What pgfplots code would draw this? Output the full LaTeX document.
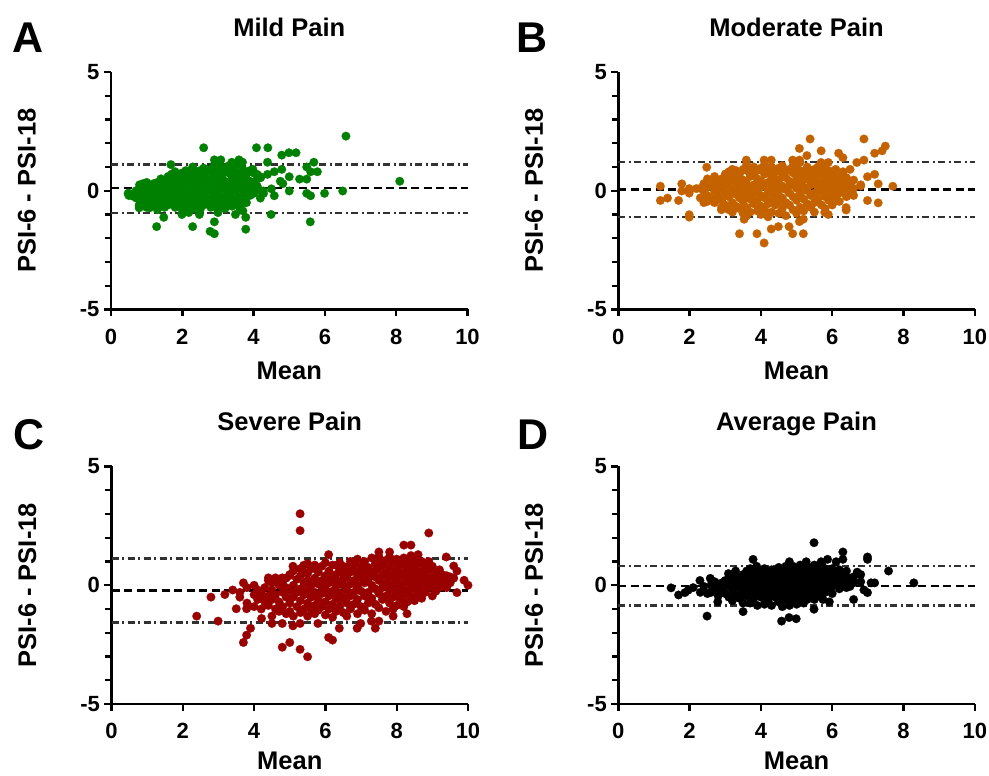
\documentclass[border=0pt]{standalone}
\usepackage{pgfplots}
\pgfplotsset{compat=1.18}
\usepackage{fontspec}
\setmainfont{Liberation Sans}
\definecolor{cA}{RGB}{0,128,0}
\definecolor{cB}{RGB}{196,98,0}
\definecolor{cC}{RGB}{153,0,0}
\definecolor{loa}{RGB}{50,50,50}
\pgfplotsset{
  bland/.style={
    scale only axis, width=356.5pt, height=237.5pt,
    xmin=0, xmax=10, ymin=-5, ymax=5,
    axis lines*=left,
    axis line style={line width=2.8pt, black},
    xtick={0,2,4,6,8,10}, ytick={-5,0,5},
    minor ytick={-4,-3,-2,-1,1,2,3,4},
    tick align=outside, major tick length=7pt, minor tick length=6pt,
    every tick/.style={line width=2.4pt, black},
    /pgf/number format/assume math mode=true,
    ticklabel style={font=\fontsize{22}{22}\selectfont\bfseries},
    xticklabel style={yshift=-9pt},
    yticklabel style={xshift=-1pt},
    label style={font=\fontsize{25.5}{28}\selectfont\bfseries},
    title style={font=\fontsize{25.5}{28}\selectfont\bfseries, at={(rel axis cs:0.5,1.126)}, anchor=base},
    xlabel style={at={(rel axis cs:0.5,-0.259)}, anchor=center},
    ylabel style={at={(rel axis cs:-0.236,0.5)}, anchor=center},
    xlabel={Mean}, ylabel={PSI-6 - PSI-18},
    clip=false,
  },
  lowrow/.style={xlabel style={at={(rel axis cs:0.5,-0.238)}, anchor=center}},
  pts/.style={only marks, mark=*, mark size=4.3pt, color=#1, mark options={fill=#1, draw=#1, line width=0.2pt}},
  meanl/.style={black, line width=2.6pt, dash pattern=on 8pt off 4.5pt},
  loal/.style={loa, line width=2.3pt, dash pattern=on 7pt off 3.5pt on 2pt off 3.5pt},
}
\begin{document}
\begin{tikzpicture}
\useasboundingbox (0,0) rectangle (989pt,776pt);
% ---------------- A
\begin{axis}[bland, at={(111pt,466.5pt)}, anchor=south west, title={Mild Pain}]
\addplot[pts=cA] coordinates {
(6.59,2.30) (8.10,0.40) (2.60,1.81) (4.08,1.81) (4.40,1.81) (4.79,1.50) (4.99,1.60) (5.19,1.60) (5.69,1.20) (5.49,1.00) (5.79,0.80) (5.60,0.80) (5.29,0.49) (5.49,0.49) (5.00,0.59) (5.00,-0.01) (6.50,-0.01) (5.99,-0.11) (5.49,-0.11) (5.60,-0.21) (5.59,-1.31) (4.49,-1.00) (4.58,-0.21) (4.79,0.90) (4.58,0.80) (4.39,1.20) (4.19,-0.31) (3.78,-1.62) (3.78,-1.12) (2.90,-1.81) (2.78,-1.71) (2.90,-1.31) (2.29,-1.51) (1.28,-1.51) (1.48,-1.12) (3.49,-1.00) (3.00,-0.92) (2.48,-1.00) (1.99,-1.00) (2.18,-0.92) (0.48,-0.11) (0.58,-0.21) (0.79,-0.61) (0.79,-0.72) (1.08,-0.72) (1.68,1.10) (2.29,1.00) (2.90,1.30) (3.08,1.30) (3.39,1.20) (3.59,1.30) (3.69,1.20) (3.98,0.90) (4.10,0.69) (4.19,0.59) (4.39,0.69) (4.82,0.30) (4.75,0.40) (4.50,0.08) (4.27,-0.01) (4.00,-0.11) (3.82,-0.11) (3.72,-0.51) (4.28,-0.11)
(0.5,-0.1) (0.5,-0.2) (0.6,-0.15) (0.7,0.0) (0.7,-0.3)
(0.8,0.25) (0.8,-0.6) (0.8,0.1) (0.8,-0.3) (0.9,0.3) (0.9,-0.1) (0.9,-0.45) (0.9,0.15)
(1.0,0.35) (1.0,0.0) (1.0,-0.35) (1.0,-0.7) (1.0,0.2) (1.1,0.25) (1.1,-0.15) (1.1,-0.5) (1.1,0.05)
(1.2,0.3) (1.2,-0.25) (1.2,0.1) (1.2,-0.6) (1.3,0.35) (1.3,0.0) (1.3,-0.4) (1.3,0.2) (1.3,-0.8)
(1.4,0.15) (1.4,-0.2) (1.4,0.5) (1.4,-0.55) (1.5,0.3) (1.5,-0.05) (1.5,-0.7) (1.5,0.4) (1.5,-0.35)
(1.6,0.6) (1.6,0.1) (1.6,-0.3) (1.6,-0.6) (1.7,0.7) (1.7,0.2) (1.7,-0.15) (1.7,-0.5) (1.7,0.45)
(1.8,0.8) (1.8,0.35) (1.8,0.0) (1.8,-0.4) (1.8,-0.7) (1.8,0.55) (1.9,0.65) (1.9,0.25) (1.9,-0.2) (1.9,-0.55) (1.9,0.05)
(2.0,0.75) (2.0,0.4) (2.0,-0.1) (2.0,-0.45) (2.0,-0.8) (2.0,0.15) (2.1,0.85) (2.1,0.5) (2.1,0.0) (2.1,-0.3) (2.1,-0.65)
(2.2,0.6) (2.2,0.3) (2.2,-0.2) (2.2,-0.5) (2.2,0.1) (2.2,0.8) (2.3,0.9) (2.3,0.45) (2.3,0.05) (2.3,-0.35) (2.3,-0.75)
(2.4,0.7) (2.4,0.2) (2.4,-0.15) (2.4,-0.55) (2.4,0.5) (2.5,0.85) (2.5,0.35) (2.5,-0.05) (2.5,-0.4) (2.5,-0.8)
(2.6,0.6) (2.6,0.15) (2.6,-0.25) (2.6,-0.6) (2.6,0.95) (2.7,0.8) (2.7,0.4) (2.7,0.0) (2.7,-0.45)
(2.8,0.9) (2.8,0.5) (2.8,0.1) (2.8,-0.3) (2.8,-0.7) (2.9,1.1) (2.9,0.65) (2.9,0.25) (2.9,-0.15) (2.9,-0.55)
(3.0,0.85) (3.0,0.45) (3.0,0.0) (3.0,-0.4) (3.0,-0.8) (3.1,1.0) (3.1,0.6) (3.1,0.2) (3.1,-0.25) (3.1,-0.6)
(3.2,0.9) (3.2,0.4) (3.2,0.05) (3.2,-0.35) (3.2,-0.75) (3.3,0.75) (3.3,0.3) (3.3,-0.1) (3.3,-0.5) (3.3,1.05)
(3.4,0.95) (3.4,0.55) (3.4,0.15) (3.4,-0.3) (3.4,-0.65) (3.5,0.8) (3.5,0.4) (3.5,0.0) (3.5,-0.45)
(3.6,1.1) (3.6,0.6) (3.6,0.2) (3.6,-0.25) (3.6,-0.7) (3.7,0.9) (3.7,0.45) (3.7,0.05) (3.7,-0.4) (3.7,-0.85)
(3.8,0.7) (3.8,0.3) (3.8,-0.15) (3.8,-0.5) (3.9,0.85) (3.9,0.4) (3.9,0.1) (3.9,-0.2)
(4.0,0.75) (4.0,0.3) (4.0,-0.1) (4.1,0.5) (4.1,0.2) (4.2,0.55) (4.2,0.0)
};
\addplot[meanl] coordinates {(0,0.11) (10,0.11)};
\addplot[loal] coordinates {(0,1.11) (10,1.11)};
\addplot[loal] coordinates {(0,-0.93) (10,-0.93)};
\end{axis}
% ---------------- B
\begin{axis}[bland, at={(618.3pt,466.5pt)}, anchor=south west, title={Moderate Pain}]
\addplot[pts=cB] coordinates {
(5.38,2.18) (6.89,2.18) (7.49,1.88) (7.40,1.68) (7.19,1.58) (5.69,1.68) (5.08,1.78) (5.29,1.48) (6.18,1.58) (6.30,1.39) (6.69,1.19) (6.89,1.29) (7.19,0.69) (6.99,0.59) (7.29,0.29) (7.70,0.19) (6.99,-0.41) (7.29,-0.51) (6.60,-0.20) (6.39,-0.71) (6.39,-0.81) (1.18,0.19) (1.18,-0.41) (1.38,-0.31) (1.69,-0.41) (1.78,0.29) (1.78,-0.01) (1.99,0.09) (1.99,-0.10) (1.99,-1.01) (1.99,-1.11) (2.19,0.09) (2.48,0.99) (3.40,-1.81) (3.89,-1.81) (4.09,-2.20) (4.29,-1.61) (4.49,-1.51) (4.79,-1.51) (4.89,-1.81) (5.19,-1.81) (5.08,-1.30) (5.19,-1.20) (3.59,1.29) (4.09,1.29) (4.29,1.29) (4.89,1.29) (5.08,1.29) (5.69,1.19) (5.89,1.19) (5.79,-0.91) (5.89,-1.00) (3.53,-1.20) (2.89,-0.80)
(2.3,0.1) (2.3,-0.3) (2.4,0.3) (2.4,-0.5) (2.4,0.0) (2.5,0.5) (2.5,0.15) (2.5,-0.2) (2.5,-0.45) (2.6,0.2) (2.6,-0.3)
(2.7,0.4) (2.7,0.0) (2.7,-0.5) (2.7,0.6) (2.8,0.25) (2.8,-0.2) (2.8,-0.35) (2.9,0.5) (2.9,0.1) (2.9,-0.4) (2.9,-0.7)
(3.0,0.7) (3.0,0.3) (3.0,-0.1) (3.0,-0.6) (3.0,0.5) (3.1,0.8) (3.1,0.2) (3.1,-0.25) (3.1,-0.8) (3.1,0.45)
(3.2,0.6) (3.2,0.05) (3.2,-0.5) (3.2,-0.9) (3.2,0.9) (3.3,0.85) (3.3,0.35) (3.3,-0.15) (3.3,-0.65) (3.3,0.55)
(3.4,0.7) (3.4,0.2) (3.4,-0.3) (3.4,-0.75) (3.4,-0.05) (3.5,0.45) (3.5,0.0) (3.5,-0.45) (3.5,-0.95) (3.5,0.9)
(3.6,0.85) (3.6,0.3) (3.6,-0.2) (3.6,-0.7) (3.6,1.1) (3.6,-1.05) (3.7,0.6) (3.7,0.1) (3.7,-0.35) (3.7,-0.9) (3.7,0.95)
(3.8,0.75) (3.8,0.25) (3.8,-0.1) (3.8,-0.55) (3.8,1.0) (3.9,0.5) (3.9,0.0) (3.9,-0.4) (3.9,-0.85) (3.9,0.85)
(4.0,0.95) (4.0,0.4) (4.0,-0.2) (4.0,-0.65) (4.0,0.15) (4.0,-1.0) (4.1,0.7) (4.1,0.2) (4.1,-0.3) (4.1,-0.8) (4.1,1.1)
(4.2,0.85) (4.2,0.35) (4.2,-0.1) (4.2,-0.55) (4.2,-1.1) (4.2,0.05) (4.3,0.6) (4.3,0.1) (4.3,-0.4) (4.3,-0.9) (4.3,1.0)
(4.4,0.8) (4.4,0.3) (4.4,-0.2) (4.4,-0.6) (4.4,0.5) (4.5,0.95) (4.5,0.45) (4.5,0.0) (4.5,-0.45) (4.5,-0.95) (4.5,0.15)
(4.6,0.7) (4.6,0.2) (4.6,-0.3) (4.6,-0.75) (4.6,1.05) (4.7,0.55) (4.7,0.05) (4.7,-0.5) (4.7,-1.05) (4.7,0.85)
(4.8,0.9) (4.8,0.4) (4.8,-0.1) (4.8,-0.6) (4.8,0.2) (4.9,0.75) (4.9,0.25) (4.9,-0.25) (4.9,-0.8) (4.9,1.05)
(5.0,0.6) (5.0,0.1) (5.0,-0.4) (5.0,-0.95) (5.0,0.95) (5.0,0.35) (5.1,0.85) (5.1,0.3) (5.1,-0.15) (5.1,-0.7) (5.1,1.2)
(5.2,0.65) (5.2,0.15) (5.2,-0.35) (5.2,-0.85) (5.2,0.45) (5.3,0.95) (5.3,0.5) (5.3,0.0) (5.3,-0.55) (5.3,1.0)
(5.4,0.75) (5.4,0.25) (5.4,-0.2) (5.4,-0.7) (5.4,0.55) (5.5,0.9) (5.5,0.4) (5.5,-0.1) (5.5,-0.5) (5.5,-0.9)
(5.6,0.65) (5.6,0.15) (5.6,-0.35) (5.6,1.0) (5.7,0.8) (5.7,0.35) (5.7,-0.05) (5.7,-0.6)
(5.8,0.6) (5.8,0.2) (5.8,-0.25) (5.8,-0.75) (5.8,0.95) (5.9,0.85) (5.9,0.45) (5.9,0.05) (5.9,-0.4)
(6.0,0.7) (6.0,0.25) (6.0,-0.15) (6.0,-0.6) (6.1,0.9) (6.1,0.5) (6.1,0.1) (6.1,-0.3)
(6.2,0.6) (6.2,0.3) (6.2,-0.1) (6.2,-0.45) (6.3,0.8) (6.3,0.4) (6.3,0.05) (6.4,0.55) (6.4,0.15) (6.4,-0.25)
(6.5,0.9) (6.5,0.3) (6.5,-0.1) (6.6,0.1) (6.6,0.45) (6.8,0.2) (6.8,0.25)
};
\addplot[meanl] coordinates {(0,0.06) (10,0.06)};
\addplot[loal] coordinates {(0,1.22) (10,1.22)};
\addplot[loal] coordinates {(0,-1.10) (10,-1.10)};
\end{axis}
% ---------------- C
\begin{axis}[bland, lowrow, at={(111.5pt,72pt)}, anchor=south west, title={Severe Pain}]
\addplot[pts=cC] coordinates {
(5.29,3.01) (5.29,2.30) (8.90,2.20) (8.20,1.69) (8.40,1.69) (8.40,1.25) (8.60,1.29) (9.39,1.19) (10.00,0.00) (9.89,0.21) (9.60,0.81) (9.69,0.60) (9.30,0.43) (9.69,-0.31) (6.09,1.29) (7.50,1.40) (7.80,1.40) (5.09,0.80) (2.39,-1.30) (2.79,-0.50) (2.99,-1.51) (3.18,-0.39) (3.70,0.10) (3.70,-2.41) (3.79,-2.10) (3.90,-1.81) (3.50,-0.99) (3.79,-0.99) (4.79,-2.61) (5.00,-2.41) (5.29,-2.70) (5.50,-3.01) (6.09,-2.20) (6.20,-2.31) (6.39,-1.81) (6.89,-1.81) (7.40,-1.81) (8.29,-1.20) (4.21,-1.40) (4.50,-1.61) (4.79,-1.61) (5.09,-1.71) (5.29,-1.61) (5.79,-1.61) (6.99,-1.61) (7.29,-1.51) (7.50,-1.51) (7.90,-1.30) (4.40,0.31) (4.60,0.31) (4.79,0.31) (5.00,0.41) (5.39,0.84) (5.50,0.91) (5.69,0.70) (6.30,0.84)
(3.4,-0.2) (3.6,-0.5) (3.6,-0.3) (3.8,-0.75) (3.8,-0.1) (4.0,-0.4) (4.0,-0.9) (4.0,0.0) (4.1,-0.6) (4.1,-0.2)
(4.2,-0.3) (4.2,-1.0) (4.2,-0.55) (4.3,-0.1) (4.3,-0.7) (4.4,0.2) (4.4,-0.45) (4.4,-0.85) (4.5,-0.2) (4.5,-0.6) (4.5,-1.3) (4.5,0.1)
(4.6,-0.4) (4.6,-1.0) (4.6,0.25) (4.7,0.0) (4.7,-0.7) (4.7,-1.1) (4.8,-0.3) (4.8,-0.9) (4.8,0.15) (4.9,-0.5) (4.9,-1.2) (4.9,0.3) (4.9,-0.1)
(5.0,-0.75) (5.0,-0.2) (5.0,0.45) (5.0,-1.1) (5.1,0.0) (5.1,-0.5) (5.1,-1.3) (5.1,0.6) (5.2,-0.3) (5.2,-0.9) (5.2,0.25)
(5.3,0.4) (5.3,-0.15) (5.3,-0.65) (5.3,-1.15) (5.3,0.7) (5.4,0.1) (5.4,-0.4) (5.4,-1.0) (5.4,0.55)
(5.5,0.5) (5.5,-0.2) (5.5,-0.75) (5.5,-1.3) (5.5,0.2) (5.6,0.7) (5.6,0.0) (5.6,-0.5) (5.6,-1.0)
(5.7,0.3) (5.7,-0.3) (5.7,-0.85) (5.7,-1.2) (5.7,0.85) (5.8,0.55) (5.8,0.05) (5.8,-0.6) (5.8,-1.05)
(5.9,0.8) (5.9,0.2) (5.9,-0.35) (5.9,-0.9) (5.9,-0.05) (6.0,0.4) (6.0,-0.15) (6.0,-0.7) (6.0,-1.25) (6.0,0.95)
(6.1,0.6) (6.1,0.1) (6.1,-0.45) (6.1,-1.0) (6.1,0.3) (6.2,0.85) (6.2,0.3) (6.2,-0.25) (6.2,-0.8) (6.2,-1.35)
(6.3,0.45) (6.3,-0.05) (6.3,-0.55) (6.3,-1.1) (6.3,0.15) (6.4,0.95) (6.4,0.65) (6.4,0.15) (6.4,-0.35) (6.4,-0.9) (6.4,-0.6)
(6.5,0.5) (6.5,0.0) (6.5,-0.5) (6.5,-1.15) (6.5,0.8) (6.5,0.25) (6.6,0.75) (6.6,0.35) (6.6,-0.2) (6.6,-0.75) (6.6,-1.3)
(6.7,1.0) (6.7,0.55) (6.7,0.05) (6.7,-0.45) (6.7,-1.0) (6.8,0.65) (6.8,0.2) (6.8,-0.3) (6.8,-0.8) (6.8,0.9)
(6.9,1.1) (6.9,0.45) (6.9,-0.1) (6.9,-0.6) (6.9,-1.2) (6.9,0.0) (7.0,0.8) (7.0,0.3) (7.0,-0.25) (7.0,-0.9) (7.0,0.55)
(7.1,1.0) (7.1,0.6) (7.1,0.1) (7.1,-0.45) (7.1,-1.05) (7.2,0.75) (7.2,0.25) (7.2,-0.3) (7.2,-0.75) (7.2,0.45)
(7.3,1.15) (7.3,0.5) (7.3,0.0) (7.3,-0.55) (7.3,-1.2) (7.4,0.9) (7.4,0.35) (7.4,-0.15) (7.4,-0.8) (7.4,0.6)
(7.5,1.2) (7.5,0.7) (7.5,0.2) (7.5,-0.35) (7.5,-0.95) (7.6,0.85) (7.6,0.4) (7.6,-0.1) (7.6,-0.6) (7.6,1.0)
(7.7,1.05) (7.7,0.55) (7.7,0.1) (7.7,-0.45) (7.7,-1.1) (7.8,0.75) (7.8,0.3) (7.8,-0.2) (7.8,-0.75) (7.8,1.2)
(7.9,0.95) (7.9,0.45) (7.9,0.0) (7.9,-0.5) (7.9,-1.0) (8.0,1.1) (8.0,0.65) (8.0,0.2) (8.0,-0.3) (8.0,-0.85)
(8.1,0.85) (8.1,0.4) (8.1,-0.1) (8.1,-0.6) (8.1,1.0) (8.2,1.15) (8.2,0.55) (8.2,0.1) (8.2,-0.4) (8.2,-0.9)
(8.3,0.75) (8.3,0.3) (8.3,-0.2) (8.3,-0.7) (8.3,1.0) (8.4,0.95) (8.4,0.5) (8.4,0.05) (8.4,-0.45)
(8.5,0.7) (8.5,0.25) (8.5,-0.15) (8.5,-0.65) (8.5,1.1) (8.6,0.9) (8.6,0.45) (8.6,0.0) (8.6,-0.4)
(8.7,0.6) (8.7,0.2) (8.7,-0.25) (8.7,-0.55) (8.7,1.0) (8.8,0.85) (8.8,0.4) (8.8,0.05) (8.8,-0.3)
(8.9,0.65) (8.9,0.2) (8.9,-0.1) (8.9,1.0) (9.0,0.8) (9.0,0.35) (9.0,-0.05) (9.0,-0.45)
(9.1,0.5) (9.1,0.1) (9.1,-0.25) (9.2,0.65) (9.2,0.3) (9.2,-0.1) (9.3,0.2) (9.3,0.0) (9.4,0.4) (9.4,-0.1) (9.5,0.1) (9.5,0.35) (9.6,0.3)
};
\addplot[meanl] coordinates {(0,-0.22) (10,-0.22)};
\addplot[loal] coordinates {(0,1.12) (10,1.12)};
\addplot[loal] coordinates {(0,-1.57) (10,-1.57)};
\end{axis}
% ---------------- D
\begin{axis}[bland, lowrow, at={(618.3pt,72pt)}, anchor=south west, title={Average Pain}]
\addplot[pts=black] coordinates {
(5.49,1.79) (6.30,1.40) (6.30,1.09) (6.99,1.19) (6.99,1.09) (7.58,0.60) (8.29,0.10) (7.19,0.10) (7.09,0.10) (6.99,-0.31) (6.89,-0.20) (6.60,-0.60) (3.78,1.09) (3.88,0.80) (2.49,-1.30) (4.58,-1.51) (4.79,-1.36) (4.99,-1.41) (5.49,-1.01) (1.48,-0.11) (1.69,-0.41) (1.87,-0.31) (1.96,-0.21) (2.29,0.20) (2.58,0.29) (3.09,0.49) (3.29,0.60) (3.50,-1.11) (2.79,-0.70) (5.87,1.09) (6.11,0.99) (5.27,0.99) (4.80,0.99) (5.69,0.99) (5.92,-0.70) (5.74,-0.60)
(2.1,-0.1) (2.3,-0.3) (2.4,-0.05) (2.5,-0.35)
(2.6,0.0) (2.6,-0.3) (2.7,-0.15) (2.7,0.15) (2.8,0.05) (2.8,-0.45) (2.9,-0.2) (2.9,0.1)
(3.0,0.2) (3.0,-0.35) (3.0,-0.05) (3.1,0.0) (3.1,-0.5) (3.1,0.3) (3.2,0.25) (3.2,-0.2) (3.2,-0.65)
(3.3,0.1) (3.3,-0.4) (3.3,0.4) (3.4,0.3) (3.4,-0.1) (3.4,-0.55) (3.5,0.45) (3.5,0.1) (3.5,-0.3) (3.5,-0.75)
(3.6,0.6) (3.6,0.25) (3.6,-0.1) (3.6,-0.45) (3.7,0.7) (3.7,0.35) (3.7,0.0) (3.7,-0.35) (3.7,-0.75)
(3.8,0.5) (3.8,0.15) (3.8,-0.2) (3.8,-0.55) (3.9,0.65) (3.9,0.3) (3.9,-0.05) (3.9,-0.4) (3.9,-0.85)
(4.0,0.55) (4.0,0.2) (4.0,-0.15) (4.0,-0.5) (4.1,0.7) (4.1,0.35) (4.1,0.0) (4.1,-0.35) (4.1,-0.8)
(4.2,0.5) (4.2,0.15) (4.2,-0.2) (4.2,-0.6) (4.3,0.65) (4.3,0.3) (4.3,-0.05) (4.3,-0.4) (4.3,-0.85)
(4.4,0.55) (4.4,0.2) (4.4,-0.15) (4.4,-0.5) (4.5,0.75) (4.5,0.4) (4.5,0.05) (4.5,-0.3) (4.5,-0.7)
(4.6,0.6) (4.6,0.25) (4.6,-0.1) (4.6,-0.45) (4.6,-0.9) (4.7,0.8) (4.7,0.45) (4.7,0.1) (4.7,-0.25) (4.7,-0.6)
(4.8,0.6) (4.8,0.25) (4.8,-0.1) (4.8,-0.45) (4.8,-0.85) (4.9,0.8) (4.9,0.45) (4.9,0.1) (4.9,-0.25) (4.9,-0.6)
(5.0,0.65) (5.0,0.3) (5.0,-0.05) (5.0,-0.4) (5.0,-0.8) (5.1,0.85) (5.1,0.5) (5.1,0.15) (5.1,-0.2) (5.1,-0.55)
(5.2,0.65) (5.2,0.3) (5.2,-0.05) (5.2,-0.4) (5.2,-0.75) (5.3,0.8) (5.3,0.45) (5.3,0.1) (5.3,-0.25) (5.3,-0.6)
(5.4,0.6) (5.4,0.25) (5.4,-0.1) (5.4,-0.45) (5.5,0.85) (5.5,0.5) (5.5,0.15) (5.5,-0.2) (5.5,-0.6)
(5.6,0.7) (5.6,0.35) (5.6,0.0) (5.6,-0.35) (5.7,0.9) (5.7,0.55) (5.7,0.2) (5.7,-0.15) (5.7,-0.5)
(5.8,0.7) (5.8,0.35) (5.8,0.0) (5.8,-0.3) (5.9,0.5) (5.9,0.15) (5.9,-0.2)
(6.0,0.7) (6.0,0.3) (6.0,-0.05) (6.0,-0.35) (6.1,0.5) (6.1,0.1) (6.2,0.65) (6.2,0.25) (6.2,-0.15)
(6.3,0.4) (6.3,0.05) (6.4,0.6) (6.4,0.2) (6.4,-0.1) (6.5,0.3) (6.5,-0.05) (6.6,0.35) (6.6,0.1) (6.7,0.55) (6.8,0.45) (6.8,0.15)
};
\addplot[meanl] coordinates {(0,-0.03) (10,-0.03)};
\addplot[loal] coordinates {(0,0.80) (10,0.80)};
\addplot[loal] coordinates {(0,-0.85) (10,-0.85)};
\end{axis}
\node[font=\fontsize{43}{43}\selectfont\bfseries] at (28pt,738pt) {A};
\node[font=\fontsize{43}{43}\selectfont\bfseries] at (532pt,738pt) {B};
\node[font=\fontsize{43}{43}\selectfont\bfseries] at (29pt,341pt) {C};
\node[font=\fontsize{43}{43}\selectfont\bfseries] at (533pt,341pt) {D};
\end{tikzpicture}
\end{document}
